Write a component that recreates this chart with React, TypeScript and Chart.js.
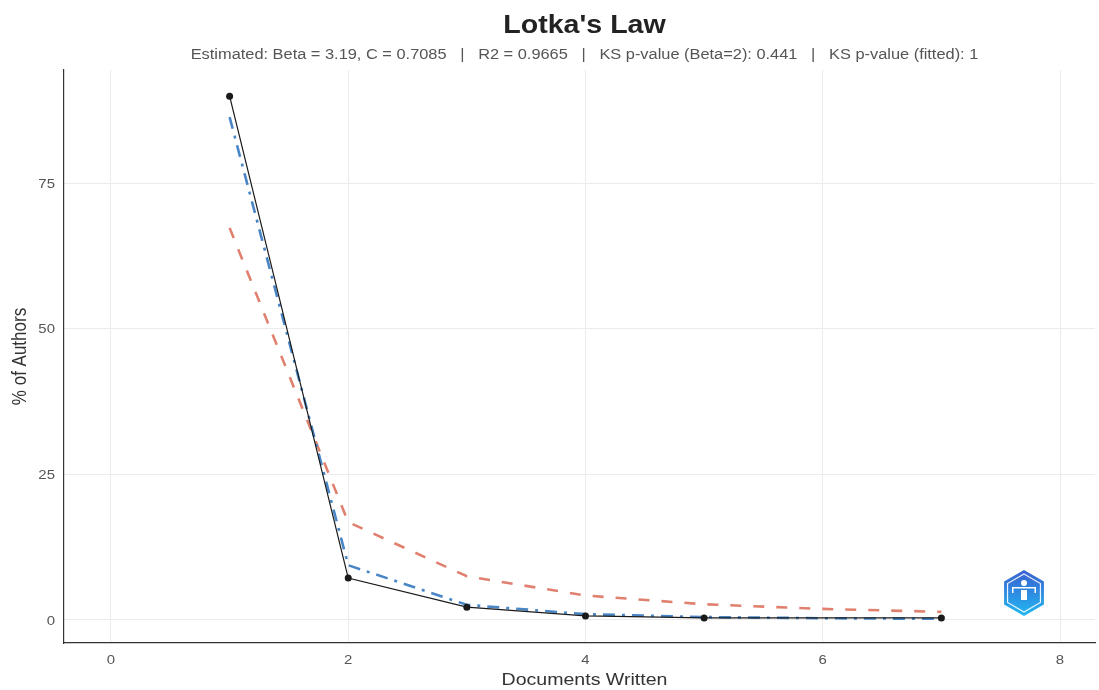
import React, { useEffect, useRef } from "react";
import { Chart, registerables } from "chart.js";

Chart.register(...registerables);

const titleText = "Lotka's Law";
const subtitleText =
  "Estimated: Beta = 3.19, C = 0.7085   |   R2 = 0.9665   |   KS p-value (Beta=2): 0.441   |   KS p-value (fitted): 1";
const xTitle = "Documents Written";
const yTitle = "% of Authors";

const observedX = [1, 2, 3, 4, 5, 7];
const observedY = [89.9, 7.2, 2.2, 0.7, 0.35, 0.35];
const modelX = [1, 2, 3, 4, 5, 6, 7];
const beta2Y = [67.3, 16.8, 7.5, 4.2, 2.7, 1.9, 1.4];
const fittedY = [86.3, 9.4, 2.6, 1.0, 0.5, 0.3, 0.2];
const xTicks = [0, 2, 4, 6, 8];
const yTicks = [0, 25, 50, 75];

const FONT = "'Liberation Sans', Arial, sans-serif";
const SX = 1.15;

function stretchText(ctx: any, text: string, x: number, y: number, sx: number, align: string) {
  ctx.save();
  ctx.translate(x, y);
  ctx.scale(sx, 1);
  ctx.textAlign = align;
  ctx.textBaseline = "middle";
  ctx.fillText(text, 0, 0);
  ctx.restore();
}

const textPlugin = {
  id: "texts",
  afterDraw(chart: any) {
    const { ctx, chartArea, scales } = chart;
    const cx = (chartArea.left + chartArea.right) / 2 + 5;
    const cy = (chartArea.top + chartArea.bottom) / 2;
    ctx.save();
    ctx.fillStyle = "#222";
    ctx.font = `bold 26px ${FONT}`;
    stretchText(ctx, titleText, cx, 26, 1.1, "center");
    ctx.fillStyle = "#555";
    ctx.font = `14px ${FONT}`;
    stretchText(ctx, subtitleText, cx, 55, 1.17, "center");

    ctx.fillStyle = "#555";
    ctx.font = `13px ${FONT}`;
    xTicks.forEach((v) => {
      stretchText(ctx, String(v), scales.x.getPixelForValue(v), chartArea.bottom + 17, SX, "center");
    });
    yTicks.forEach((v) => {
      stretchText(ctx, String(v), chartArea.left - 9, scales.y.getPixelForValue(v) + 1, SX, "right");
    });

    ctx.fillStyle = "#333";
    ctx.font = `17px ${FONT}`;
    stretchText(ctx, xTitle, cx, chartArea.bottom + 37, SX, "center");

    ctx.save();
    ctx.translate(21, cy);
    ctx.scale(SX, 1);
    ctx.rotate(-Math.PI / 2);
    ctx.textAlign = "center";
    ctx.textBaseline = "middle";
    ctx.fillText(yTitle, 0, 0);
    ctx.restore();
    ctx.restore();
  },
};

const logoPlugin = {
  id: "logo",
  afterDraw(chart: any) {
    const { ctx, chartArea } = chart;
    const cx = chartArea.right - 71;
    const cy = chartArea.bottom - 50;
    const r = 23;
    ctx.save();
    const g = ctx.createLinearGradient(0, cy - r, 0, cy + r);
    g.addColorStop(0, "#3a5fd0");
    g.addColorStop(1, "#22b8f2");
    const hex = (rr: number) => {
      ctx.beginPath();
      for (let i = 0; i < 6; i++) {
        const a = -Math.PI / 2 + (i * Math.PI) / 3;
        const px = cx + rr * Math.cos(a);
        const py = cy + rr * Math.sin(a);
        if (i === 0) ctx.moveTo(px, py);
        else ctx.lineTo(px, py);
      }
      ctx.closePath();
    };
    hex(r);
    ctx.fillStyle = g;
    ctx.fill();
    hex(r - 4);
    ctx.strokeStyle = "rgba(255,255,255,0.9)";
    ctx.lineWidth = 1.2;
    ctx.stroke();
    ctx.fillStyle = "#ffffff";
    ctx.fillRect(cx - 12, cy - 6, 24, 1.5);
    ctx.fillRect(cx - 12, cy - 6, 1.5, 6);
    ctx.fillRect(cx + 10.5, cy - 6, 1.5, 6);
    ctx.beginPath();
    ctx.arc(cx, cy - 10, 3, 0, Math.PI * 2);
    ctx.fill();
    ctx.fillRect(cx - 3, cy - 3, 6, 10);
    ctx.restore();
  },
};

export default function App() {
  const ref = useRef<HTMLCanvasElement>(null);
  useEffect(() => {
    document.body.style.margin = "0";
    const toXY = (xs: number[], ys: number[]) => xs.map((x, i) => ({ x, y: ys[i] }));
    const chart = new Chart(ref.current!, {
      type: "line",
      data: {
        datasets: [
          {
            label: "Observed",
            data: toXY(observedX, observedY),
            borderColor: "#1a1a1a",
            backgroundColor: "#1a1a1a",
            borderWidth: 1.2,
            pointRadius: 3.5,
            pointBorderWidth: 0,
            tension: 0,
          },
          {
            label: "Fitted",
            data: toXY(modelX, fittedY),
            borderColor: "#4a86c6",
            borderWidth: 2.6,
            borderDash: [12, 7, 3, 7],
            pointRadius: 0,
            tension: 0,
          },
          {
            label: "Beta=2",
            data: toXY(modelX, beta2Y),
            borderColor: "#e0816f",
            borderWidth: 2.6,
            borderDash: [11, 12],
            pointRadius: 0,
            tension: 0,
          },
        ],
      },
      options: {
        animation: false,
        responsive: false,
        layout: { padding: { top: 70, right: 0, left: 0, bottom: 0 } },
        plugins: { legend: { display: false }, tooltip: { enabled: false }, title: { display: false } },
        scales: {
          x: {
            type: "linear",
            min: -0.396,
            max: 8.295,
            afterFit: (s: any) => {
              s.height = 47;
            },
            afterBuildTicks: (s: any) => {
              s.ticks = xTicks.map((v) => ({ value: v }));
            },
            grid: { color: "#ebebeb", lineWidth: 1, drawTicks: false },
            border: { display: true, color: "#333", width: 1.2 },
            ticks: { display: false },
          },
          y: {
            type: "linear",
            min: -3.95,
            max: 94.4,
            afterFit: (s: any) => {
              s.width = 64;
            },
            afterBuildTicks: (s: any) => {
              s.ticks = yTicks.map((v) => ({ value: v }));
            },
            grid: { color: "#ebebeb", lineWidth: 1, drawTicks: false },
            border: { display: true, color: "#333", width: 1.2 },
            ticks: { display: false },
          },
        },
      },
      plugins: [textPlugin, logoPlugin],
    });
    return () => chart.destroy();
  }, []);
  return <canvas ref={ref} width={1099} height={690} style={{ display: "block" }} />;
}
